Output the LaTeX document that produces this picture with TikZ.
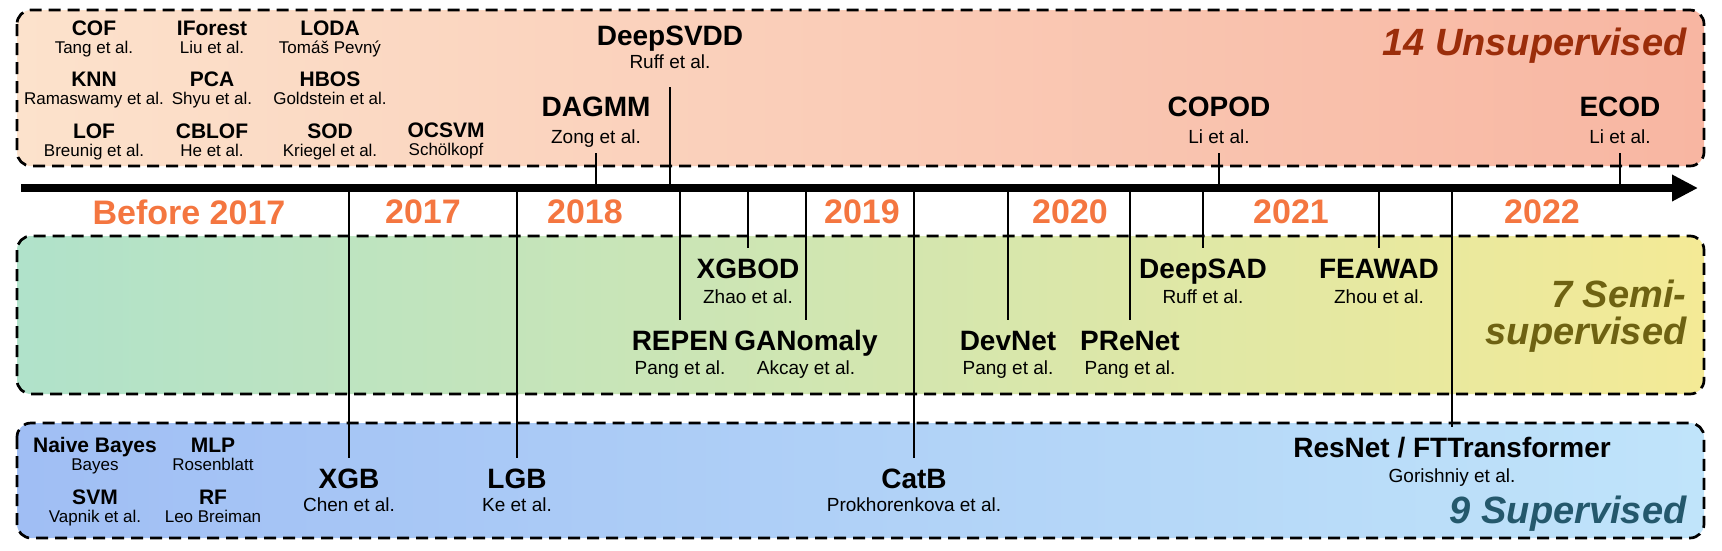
\documentclass[tikz,border=0pt]{standalone}
\usepackage{fontspec}
\setmainfont{Liberation Sans}
\usetikzlibrary{arrows.meta,positioning}

\definecolor{unsL}{RGB}{252,226,204}
\definecolor{unsR}{RGB}{248,182,162}
\definecolor{semiL}{RGB}{176,226,202}
\definecolor{semiR}{RGB}{244,234,150}
\definecolor{supL}{RGB}{160,190,244}
\definecolor{supR}{RGB}{192,228,250}
\definecolor{yearorange}{RGB}{244,118,64}
\definecolor{unsText}{RGB}{155,45,10}
\definecolor{semiText}{RGB}{110,98,18}
\definecolor{supText}{RGB}{36,88,108}

\begin{document}
\begin{tikzpicture}[x=1pt, y=-1pt,
    catbox/.style={draw=black, line width=2.7pt, dash pattern=on 12pt off 7pt, rounded corners=14pt},
    yearlbl/.style={font=\fontsize{34}{34}\selectfont\bfseries, text=yearorange},
    bigname/.style={font=\fontsize{28}{28}\selectfont\bfseries, text height=20pt, text depth=0pt, inner xsep=1pt, inner ysep=10pt},
    bigauth/.style={font=\fontsize{19}{19}\selectfont, text height=13.7pt, text depth=0pt, inner xsep=1pt, inner ysep=9pt},
    smallname/.style={font=\fontsize{21}{21}\selectfont\bfseries, text height=15pt, text depth=0pt, inner sep=0pt},
    smallauth/.style={font=\fontsize{17}{17}\selectfont, text height=12.2pt, text depth=0pt, inner sep=0pt},
    catlbl/.style={font=\fontsize{38}{37}\selectfont\bfseries\itshape, anchor=base east, align=right},
    tick/.style={line width=1.4pt}]
  % Define dimensions
  \def\L{17}
  \def\R{1704}
  \def\axisY{188}
  \useasboundingbox (0,0) rectangle (1722,550);

  % Draw category boxes
  \draw[catbox, left color=unsL, right color=unsR] (\L,10) rectangle (\R,166);
  \draw[catbox, left color=semiL, right color=semiR] (\L,236) rectangle (\R,394);
  \draw[catbox, left color=supL, right color=supR] (\L,423) rectangle (\R,538);

  % Category labels
  \node[catlbl, text=unsText] (lblUns) at (1690,55) {14 Unsupervised};
  \node[catlbl, text=semiText] (lblSemi) at (1690,344) {7 Semi-\\supervised};
  \node[catlbl, text=supText] (lblSup) at (1690,523) {9 Supervised};

  % Label years
  \foreach \x/\t [count=\i] in {189/Before 2017, 423/2017, 585/2018, 862/2019, 1070/2020, 1291/2021, 1542/2022}
      \node[yearlbl] (yr\i) at (\x,212) {\t};

  % Small grids of classic methods
  \foreach \x/\y/\id/\m/\a in {94/28/cof/COF/Tang et al., 212/28/iforest/IForest/Liu et al.,
      330/28/loda/LODA/Tomáš Pevný, 94/79/knn/KNN/Ramaswamy et al., 212/79/pca/PCA/Shyu et al.,
      330/79/hbos/HBOS/Goldstein et al., 94/131/lof/LOF/Breunig et al., 212/131/cblof/CBLOF/He et al.,
      330/131/sod/SOD/Kriegel et al., 446/130/ocsvm/OCSVM/Schölkopf,
      95/445/nb/Naive Bayes/Bayes, 213/445/mlp/MLP/Rosenblatt,
      95/497/svm/SVM/Vapnik et al., 213/497/rf/RF/Leo Breiman} {%
      \node[smallname] (n\id) at (\x,\y) {\m};
      \node[smallauth] (a\id) at (\x,\y+19.5) {\a};
  }

  % Unsupervised deep methods
  \node[bigname] (nDeepSVDD) at (670,35) {DeepSVDD};
  \node[bigauth] (aDeepSVDD) at (670,62) {Ruff et al.};
  \node[bigname] (nDAGMM) at (596,106) {DAGMM};
  \node[bigauth] (aDAGMM) at (596,137) {Zong et al.};
  \node[bigname] (nCOPOD) at (1219,106) {COPOD};
  \node[bigauth] (aCOPOD) at (1219,137) {Li et al.};
  \node[bigname] (nECOD) at (1620,106) {ECOD};
  \node[bigauth] (aECOD) at (1620,137) {Li et al.};

  % Semi-supervised methods
  \node[bigname] (nXGBOD) at (748,268) {XGBOD};
  \node[bigauth] (aXGBOD) at (748,297) {Zhao et al.};
  \node[bigname] (nDeepSAD) at (1203,268) {DeepSAD};
  \node[bigauth] (aDeepSAD) at (1203,297) {Ruff et al.};
  \node[bigname] (nFEAWAD) at (1379,268) {FEAWAD};
  \node[bigauth] (aFEAWAD) at (1379,297) {Zhou et al.};
  \node[bigname] (nREPEN) at (680,340) {REPEN};
  \node[bigauth] (aREPEN) at (680,368) {Pang et al.};
  \node[bigname] (nGANomaly) at (806,340) {GANomaly};
  \node[bigauth] (aGANomaly) at (806,368) {Akcay et al.};
  \node[bigname] (nDevNet) at (1008,340) {DevNet};
  \node[bigauth] (aDevNet) at (1008,368) {Pang et al.};
  \node[bigname] (nPReNet) at (1130,340) {PReNet};
  \node[bigauth] (aPReNet) at (1130,368) {Pang et al.};

  % Supervised methods
  \node[bigname] (nXGB) at (349,478) {XGB};
  \node[bigauth] (aXGB) at (349,505) {Chen et al.};
  \node[bigname] (nLGB) at (517,478) {LGB};
  \node[bigauth] (aLGB) at (517,505) {Ke et al.};
  \node[bigname] (nCatB) at (914,478) {CatB};
  \node[bigauth] (aCatB) at (914,505) {Prokhorenkova et al.};
  \node[bigname] (nResNet) at (1452,447) {ResNet / FTTransformer};
  \node[bigauth] (aResNet) at (1452,476) {Gorishniy et al.};

  % Ticks from the axis
  \foreach \m/\x in {DAGMM/596, COPOD/1219, ECOD/1620} {%
      \coordinate (t\m) at (\x,\axisY);
      \draw[tick] (t\m) -- (a\m.south);
  }
  \coordinate (tDeepSVDD) at (670,\axisY);
  \draw[tick, shorten >=9pt] (tDeepSVDD) -- (aDeepSVDD.south);
  \foreach \m/\x in {XGB/349, LGB/517, REPEN/680, XGBOD/748, GANomaly/806, CatB/914,
      DevNet/1008, PReNet/1130, DeepSAD/1203, FEAWAD/1379, ResNet/1452} {%
      \coordinate (t\m) at (\x,\axisY);
      \draw[tick] (t\m) -- (n\m.north);
  }

  % Draw time axis
  \coordinate (axL) at (21,\axisY);
  \coordinate (axR) at (1698,\axisY);
  \draw[line width=8pt, -{Triangle[length=26pt, width=25pt]}] (axL) -- (axR);
\end{tikzpicture}
\end{document}
